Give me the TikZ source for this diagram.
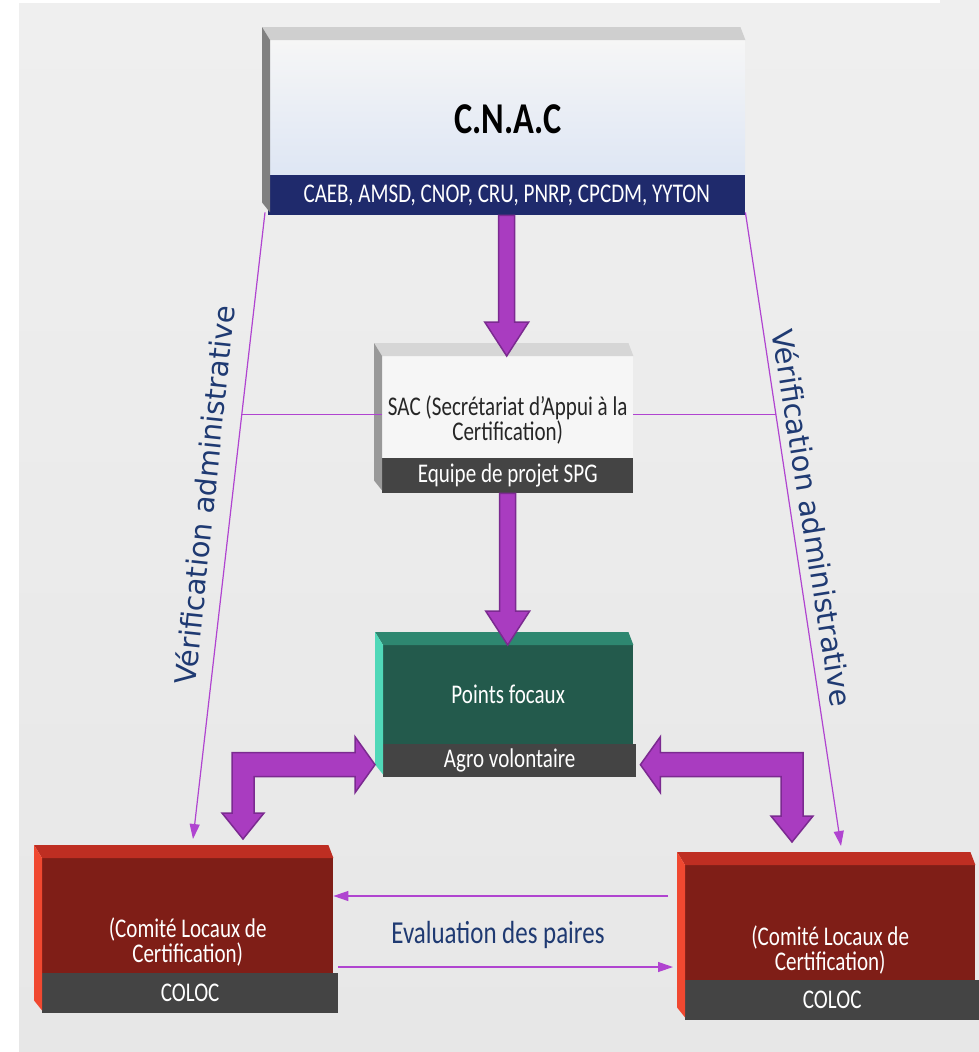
\documentclass[tikz,border=0pt]{standalone}
\usepackage{fontspec}
\setmainfont{Carlito}[FakeStretch=0.78]
\newfontfamily\verifont{DejaVu Sans}
\usetikzlibrary{calc,positioning,arrows.meta}

\definecolor{fondhaut}{HTML}{EFEFEF}
\definecolor{fondbas}{HTML}{E7E7E7}
\definecolor{blanc}{HTML}{F6F6F6}
\definecolor{bleuclair}{HTML}{DEE6F4}
\definecolor{bleunuit}{HTML}{1F2A6C}
\definecolor{grisbarre}{HTML}{444444}
\definecolor{vertfonce}{HTML}{235A4C}
\definecolor{vertdessus}{HTML}{2E8770}
\definecolor{vertcote}{HTML}{50D8B8}
\definecolor{rougefonce}{HTML}{7F1E17}
\definecolor{rougedessus}{HTML}{BE2E22}
\definecolor{rougecote}{HTML}{F04830}
\definecolor{flechefill}{HTML}{A93CC0}
\definecolor{flechebord}{HTML}{7B2A90}
\definecolor{trait}{HTML}{B044D0}
\definecolor{marine}{HTML}{1F3A72}

% faces du dessus et du cote d'un bloc
\newcommand{\cotes}[3]{%
  \fill[#2] ($(#1.north west)+(-8,-13)$) -- ($(#1.north east)+(-5,-13)$) -- (#1.north east) -- (#1.north west) -- cycle;
  \fill[#3] ($(#1.north west)+(-8,-13)$) -- (#1.north west) -- ($(#1.west |- #1-b.south)+(0,-3)$) -- ($(#1.west |- #1-b.south)+(-8,-13)$) -- cycle;}

% grosse fleche vers le bas
\newcommand{\flechebas}[2]{%
  \filldraw[fleche] ($(#1)+(-8,0)$) -- ($(#1)+(8,0)$) -- ($(#1 |- #2)+(8,-34)$) -- ($(#1 |- #2)+(22,-34)$)
    -- (#1 |- #2) -- ($(#1 |- #2)+(-22,-34)$) -- ($(#1 |- #2)+(-8,-34)$) -- cycle;}

% fleche en L a deux pointes
\newcommand{\flecheL}[3]{%
  \filldraw[fleche] (#1) -- ($(#1)+(-20*#3,-28)$) -- ($(#1)+(-20*#3,-12)$)
    -- ($(#2 |- #1)+(-11*#3,-12)$) -- ($(#2)+(-11*#3,-26)$) -- ($(#2)+(-21*#3,-26)$)
    -- (#2) -- ($(#2)+(21*#3,-26)$) -- ($(#2)+(11*#3,-26)$) -- ($(#2 |- #1)+(11*#3,12)$)
    -- ($(#1)+(-20*#3,12)$) -- ($(#1)+(-20*#3,28)$) -- cycle;}

\begin{document}
\begin{tikzpicture}[x=1pt,y=-1pt,
  face/.style={anchor=north west, inner sep=0pt},
  barre/.style={anchor=north west, inner sep=0pt, fill=grisbarre, text=white,
    font=\fontsize{27}{27}\selectfont},
  titre/.style={align=center, text=white, font=\fontsize{27}{25}\selectfont},
  fleche/.style={fill=flechefill, draw=flechebord, line width=1.5pt, line join=miter},
  lien/.style={draw=trait, line width=1.2pt},
  pointe/.style={-{Triangle[length=15pt,width=10pt]}},
  verif/.style={text=marine, font=\verifont\fontsize{29}{29}\selectfont}]

\useasboundingbox (0,0) rectangle (979,1052);
\shade[top color=fondhaut, bottom color=fondbas] (19,3) rectangle (979,1052);
\fill[fondhaut] (940,0) rectangle (979,3);

% les blocs
\node[face, top color=blanc, bottom color=bleuclair, minimum width=475, minimum height=135] (cnac) at (270,40) {};
\node[barre, fill=bleunuit, minimum width=477, minimum height=40] (cnac-b) at (268,175) {CAEB, AMSD, CNOP, CRU, PNRP, CPCDM, YYTON};
\node[font=\fontsize{44}{44}\selectfont\bfseries] (cnac-t) at ($(cnac.center)+(0,12)$) {C.N.A.C};

\node[face, fill=blanc, minimum width=251, minimum height=102] (sac) at (382,356) {};
\node[barre, minimum width=251, minimum height=35] (sac-b) at (382,458) {Equipe de projet SPG};
\node[titre, text=black!85] (sac-t) at ($(sac.center)+(0,13)$) {SAC (Secrétariat d’Appui à la\\Certification)};

\node[face, fill=vertfonce, minimum width=250, minimum height=99] (pf) at (383,645) {};
\node[barre, minimum width=253, minimum height=33] (pf-b) at (383,744) {Agro volontaire};
\node[titre] (pf-t) at (pf.center) {Points focaux};

\node[face, fill=rougefonce, minimum width=291, minimum height=115] (lc) at (42,858) {};
\node[barre, minimum width=296, minimum height=40] (lc-b) at (42,973) {COLOC};
\node[titre] (lc-t) at ($(lc.center)+(0,26)$) {(Comité Locaux de\\Certification)};

\node[face, fill=rougefonce, minimum width=290, minimum height=115] (rc) at (685,865) {};
\node[barre, minimum width=294, minimum height=40] (rc-b) at (685,980) {COLOC};
\node[titre] (rc-t) at ($(rc.center)+(0,27)$) {(Comité Locaux de\\Certification)};

\cotes{cnac}{black!19}{black!50}
\cotes{sac}{black!16}{black!40}
\cotes{pf}{vertdessus}{vertcote}
\cotes{lc}{rougedessus}{rougecote}
\cotes{rc}{rougedessus}{rougecote}

% verification administrative
\draw[lien, pointe] ($(cnac-b.south west)+(-3,-3)$) -- coordinate[pos=0.322] (vg) ($(lc.north west)+(151,-19)$);
\draw[lien, pointe] ($(cnac-b.south east)+(0,-3)$) -- coordinate[pos=0.3186] (vd) ($(rc.north west)+(156,-19)$);
\draw[lien] (vg) -- (vg -| sac.west);
\draw[lien] (vd) -- (vd -| sac.east);
\node[verif, rotate=84] (vg-t) at (204,495) {Vérification administrative};
\node[verif, rotate=-81] (vd-t) at (813,518) {Vérification administrative};

% evaluation des paires
\draw[lien, pointe] ($(rc.north west)+(-17,31)$) coordinate (e1) -- (e1 -| lc.east);
\draw[lien, pointe, shorten >=12pt] ($(lc-b.north east)+(0,-6)$) coordinate (e2) -- (e2 -| rc.west);
\node[text=marine, font=\fontsize{32}{32}\selectfont] (eval) at (498,935) {Evaluation des paires};

% grosses fleches
\flechebas{cnac-b.south}{sac.north}
\flechebas{sac-b.south}{pf.north}
\coordinate (pfg) at ($(pf-b.west)+(-8,4)$);
\coordinate (pfd) at ($(pf-b.east)+(4,4)$);
\coordinate (lch) at ($(lc.north west)+(201,-19)$);
\coordinate (rch) at ($(rc.north west)+(107,-23)$);
\flecheL{pfg}{lch}{1}
\flecheL{pfd}{rch}{-1}
\end{tikzpicture}
\end{document}
